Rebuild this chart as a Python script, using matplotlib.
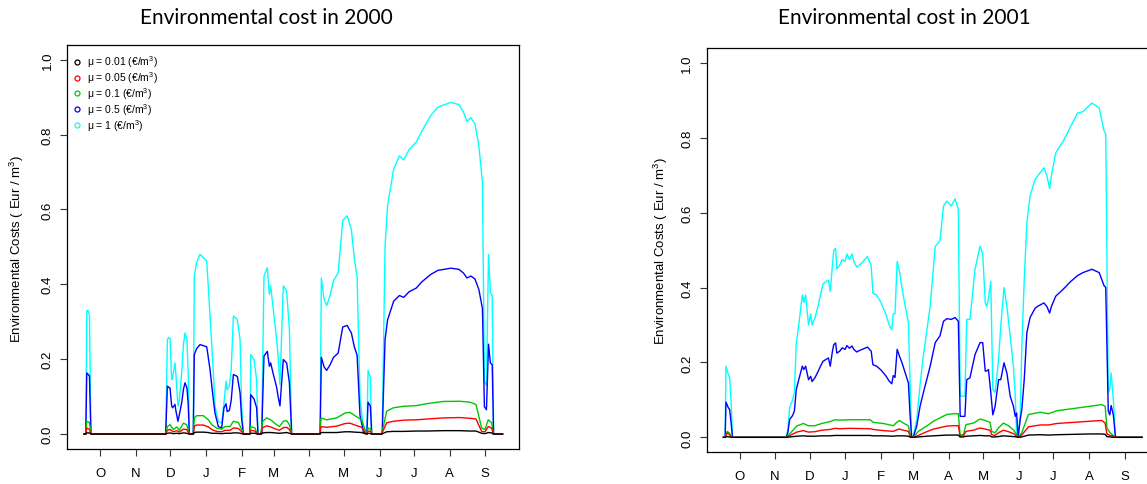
import matplotlib
matplotlib.use("Agg")
import matplotlib.pyplot as plt
from matplotlib.lines import Line2D

plt.rcParams['font.family'] = ['Liberation Sans', 'DejaVu Sans']
plt.rcParams['mathtext.fontset'] = 'custom'
plt.rcParams['mathtext.rm'] = 'Liberation Sans'
plt.rcParams['mathtext.it'] = 'Liberation Sans:italic'

# day of the hydrological year (0 = 1 Oct), values in Eur/m3
days_2000_hi = [0, 1.5, 2.4, 3.4, 4.7, 6.0, 71.0, 72.5, 73.5, 74.8, 76.2, 77.0, 79.1, 80.0,
                81.7, 82.9, 84.9, 86.5, 87.8, 89.5, 90.6, 91.6, 95.0, 95.9, 97.9, 100.9,
                103.8, 106.7, 109.6, 112.5, 113.9, 116.8, 119.7, 121.7, 123.5, 124.5, 126.4,
                128.0, 129.9, 133.3, 135.7, 137.1, 138.6, 144.3, 145.0, 147.8, 150.1, 151.3,
                154.5, 156.5, 159.4, 161.2, 162.3, 164.6, 167.5, 168.8, 170.4, 173.3, 176.2,
                178.6, 180.6, 205.3, 206.4, 208.8, 211.0, 214.0, 217.0, 221.0, 225.0, 228.8,
                232.5, 235.0, 237.5, 240.0, 243.0, 246.0, 247.0, 249.0, 250.2, 259.3, 261.8,
                264.0, 265.6, 269.3, 274.3, 278.0, 282.7, 289.0, 293.6, 301.4, 307.6, 319.0,
                326.0, 330.0, 333.0, 336.5, 340.0, 343.4, 346.5, 348.2, 350.0, 351.8, 353.4,
                355.0, 356.2, 364]
cost_2000_mu1 = [0, 0, 0.33, 0.33, 0.318, 0, 0, 0.252, 0.258, 0.255, 0.145, 0.15, 0.19, 0.154,
                 0.074, 0.092, 0.163, 0.24, 0.27, 0.252, 0.16, 0, 0, 0.422, 0.458, 0.48,
                 0.471, 0.462, 0.315, 0.163, 0.074, 0.034, 0.029, 0.083, 0.141, 0.118, 0.128,
                 0.172, 0.315, 0.306, 0.252, 0.074, 0, 0, 0.212, 0.199, 0.145, 0,
                 0, 0.422, 0.444, 0.373, 0.396, 0.333, 0.252, 0.208, 0.132, 0.396, 0.382,
                 0.28, 0, 0, 0.417, 0.36, 0.343, 0.37, 0.41, 0.43, 0.571, 0.583,
                 0.547, 0.47, 0.42, 0.10, 0.01, 0, 0.17, 0.15, 0, 0, 0.502,
                 0.61, 0.64, 0.708, 0.743, 0.732, 0.76, 0.78, 0.808, 0.85, 0.873, 0.886,
                 0.88, 0.86, 0.835, 0.845, 0.828, 0.77, 0.672, 0.14, 0.13, 0.48, 0.377,
                 0.37, 0, 0]
cost_2000_mu05 = [0, 0, 0.163, 0.16, 0.155, 0, 0, 0.128, 0.125, 0.123, 0.075, 0.07, 0.079, 0.06,
                  0.034, 0.052, 0.083, 0.12, 0.137, 0.123, 0.08, 0, 0, 0.212, 0.228, 0.239,
                  0.236, 0.233, 0.172, 0.09, 0.056, 0.02, 0.016, 0.07, 0.081, 0.06, 0.063,
                  0.09, 0.159, 0.154, 0.11, 0.04, 0, 0, 0.105, 0.094, 0.07, 0,
                  0, 0.208, 0.221, 0.181, 0.19, 0.16, 0.125, 0.1, 0.075, 0.199, 0.19,
                  0.137, 0, 0, 0.205, 0.179, 0.17, 0.185, 0.205, 0.216, 0.286, 0.29,
                  0.27, 0.234, 0.21, 0.05, 0.005, 0, 0.085, 0.075, 0, 0, 0.252,
                  0.305, 0.32, 0.355, 0.37, 0.365, 0.38, 0.39, 0.406, 0.426, 0.437, 0.443,
                  0.44, 0.43, 0.417, 0.422, 0.414, 0.386, 0.335, 0.073, 0.065, 0.24, 0.19,
                  0.185, 0, 0]

days_2000_lo = [0, 1.5, 2.3, 4.6, 6.2, 71.0, 72.5, 74.8, 77.7, 80.6, 82.9, 86.4, 89.3, 91.6,
                95.1, 95.9, 97.9, 103.8, 108.1, 111.0, 115.4, 119.7, 122.6, 127.0, 129.9,
                134.2, 137.1, 139.1, 144.3, 145.0, 148.7, 150.7, 153.6, 155.4, 158.8, 162.3,
                166.1, 169.9, 173.3, 176.2, 178.6, 180.6, 205.2, 206.1, 211.0, 219.7, 226.9,
                231.3, 235.6, 241.4, 244.3, 246.0, 247.0, 249.0, 250.5, 258.8, 260.3, 263.2,
                269.0, 277.7, 289.3, 298.0, 312.5, 327.0, 335.7, 340.9, 345.8, 348.7, 351.6,
                354.5, 356.0, 364]
cost_2000_mu01 = [0, 0, 0.034, 0.031, 0, 0, 0.02, 0.025, 0.012, 0.019, 0.01, 0.029, 0.025, 0,
                  0, 0.043, 0.049, 0.049, 0.038, 0.025, 0.016, 0.013, 0.02, 0.02, 0.034,
                  0.031, 0.012, 0, 0, 0.02, 0.016, 0, 0, 0.034, 0.043, 0.038,
                  0.028, 0.02, 0.034, 0.036, 0.025, 0, 0, 0.043, 0.038, 0.043, 0.056,
                  0.058, 0.049, 0.038, 0.012, 0, 0.016, 0.014, 0, 0, 0.02, 0.061,
                  0.07, 0.074, 0.076, 0.081, 0.087, 0.0875, 0.085, 0.079, 0.016, 0.012, 0.038,
                  0.03, 0, 0]
cost_2000_mu005 = [0, 0, 0.016, 0.013, 0, 0, 0.01, 0.012, 0.006, 0.009, 0.005, 0.013, 0.012, 0,
                   0, 0.021, 0.024, 0.024, 0.019, 0.012, 0.007, 0.006, 0.01, 0.01, 0.016,
                   0.015, 0.006, 0, 0, 0.01, 0.008, 0, 0, 0.017, 0.022, 0.019,
                   0.014, 0.01, 0.017, 0.018, 0.012, 0, 0, 0.02, 0.018, 0.021, 0.028,
                   0.029, 0.024, 0.018, 0.005, 0, 0.008, 0.007, 0, 0, 0.01, 0.03,
                   0.034, 0.037, 0.038, 0.04, 0.043, 0.044, 0.042, 0.04, 0.007, 0.006, 0.02,
                   0.016, 0, 0]
cost_2000_mu001 = [0, 0, 0.003, 0.003, 0, 0, 0.002, 0.003, 0.001, 0.002, 0.001, 0.003, 0.002, 0,
                   0, 0.004, 0.005, 0.005, 0.004, 0.002, 0.002, 0.001, 0.002, 0.002, 0.003,
                   0.003, 0.001, 0, 0, 0.002, 0.002, 0, 0, 0.003, 0.004, 0.004,
                   0.003, 0.002, 0.003, 0.004, 0.002, 0, 0, 0.004, 0.004, 0.004, 0.006,
                   0.006, 0.005, 0.004, 0.001, 0, 0.002, 0.001, 0, 0, 0.002, 0.006,
                   0.007, 0.007, 0.008, 0.008, 0.009, 0.009, 0.008, 0.008, 0.002, 0.001, 0.004,
                   0.003, 0, 0]

days_2001_hi = [0, 1.5, 2.2, 4.1, 5.4, 6.6, 7.9, 54.5, 56.0, 57.6, 60.1, 61.7, 63.3, 65.5,
                68.6, 69.9, 71.5, 74.0, 75.9, 77.1, 79.7, 82.2, 84.4, 86.6, 91.3, 92.9, 94.8,
                96.0, 97.6, 98.6, 101.1, 103.3, 105.8, 107.4, 109.6, 111.8, 113.4, 115.9,
                118.4, 121.5, 125.3, 128.5, 130.0, 133.2, 137.0, 141.1, 144.2, 146.4, 147.7,
                149.2, 151.1, 153.3, 155.2, 158.1, 160.9, 162.3, 163.7, 165.0, 168.1, 171.0,
                173.8, 179.8, 184.2, 188.3, 191.4, 194.3, 198.1, 201.5, 204.3, 205.9, 210.0,
                211.6, 214.4, 218.8, 223.2, 225.5, 227.7, 228.9, 230.5, 232.5, 234.3, 236.3,
                239.3, 241.2, 244.0, 246.5, 249.4, 252.2, 253.8, 255.0, 256.3, 258.2, 259.5,
                261.6, 263.9, 266.7, 271.1, 273.3, 278.7, 281.2, 283.7, 285.3, 289.0, 295.3,
                301.6, 307.9, 312.7, 320.5, 326.8, 330.9, 332.5, 334.7, 336.0, 337.2, 339.1,
                341.0, 364]
cost_2001_mu1 = [0, 0, 0.19, 0.17, 0.16, 0.10, 0, 0, 0.02, 0.08, 0.10, 0.12, 0.25, 0.30,
                 0.38, 0.36, 0.38, 0.30, 0.33, 0.30, 0.32, 0.35, 0.38, 0.41, 0.42, 0.39, 0.46,
                 0.50, 0.505, 0.45, 0.46, 0.475, 0.47, 0.49, 0.475, 0.49, 0.47, 0.455,
                 0.46, 0.47, 0.483, 0.458, 0.385, 0.38, 0.36, 0.33, 0.30, 0.287, 0.33,
                 0.33, 0.47, 0.44, 0.40, 0.35, 0.306, 0.15, 0, 0, 0.047, 0.14,
                 0.217, 0.35, 0.51, 0.525, 0.618, 0.631, 0.618, 0.637, 0.608, 0.11, 0.11,
                 0.315, 0.315, 0.449, 0.511, 0.49, 0.36, 0.35, 0.37, 0.417, 0.128, 0.12,
                 0.208, 0.297, 0.40, 0.35, 0.27, 0.19, 0.11, 0.01, 0, 0.062, 0.24,
                 0.42, 0.574, 0.645, 0.69, 0.698, 0.72, 0.70, 0.665, 0.70, 0.76, 0.79,
                 0.828, 0.866, 0.87, 0.893, 0.88, 0.82, 0.81, 0.12, 0.13, 0.172, 0.10,
                 0, 0]
cost_2001_mu05 = [0, 0, 0.094, 0.08, 0.074, 0.04, 0, 0, 0.012, 0.048, 0.058, 0.07, 0.127, 0.154,
                  0.19, 0.181, 0.19, 0.154, 0.163, 0.149, 0.16, 0.175, 0.19, 0.203, 0.212, 0.19, 0.23,
                  0.248, 0.252, 0.225, 0.23, 0.239, 0.235, 0.245, 0.238, 0.244, 0.235, 0.228,
                  0.232, 0.236, 0.241, 0.23, 0.194, 0.19, 0.18, 0.165, 0.15, 0.143, 0.165,
                  0.16, 0.235, 0.215, 0.2, 0.172, 0.145, 0.06, 0, 0, 0.03, 0.083,
                  0.118, 0.19, 0.253, 0.271, 0.31, 0.317, 0.315, 0.32, 0.31, 0.056, 0.056,
                  0.154, 0.159, 0.221, 0.253, 0.253, 0.177, 0.177, 0.181, 0.12, 0.06, 0.083,
                  0.154, 0.154, 0.199, 0.172, 0.11, 0.083, 0.056, 0.065, 0, 0.05, 0.074,
                  0.154, 0.28, 0.32, 0.345, 0.35, 0.359, 0.35, 0.332, 0.35, 0.377, 0.395,
                  0.415, 0.432, 0.44, 0.449, 0.44, 0.406, 0.40, 0.07, 0.06, 0.085, 0.06,
                  0, 0]

days_2001_lo = [0, 1.5, 3.3, 5.0, 7.0, 55.0, 57.9, 63.7, 69.5, 73.8, 79.5, 85.5, 92.7, 97.0,
                101.0, 110.1, 127.5, 130.4, 139.0, 147.8, 150.7, 153.0, 156.5, 160.8, 162.9,
                165.2, 169.5, 176.8, 182.6, 188.4, 194.2, 200.0, 204.3, 205.8, 208.7, 211.0,
                217.4, 223.2, 227.5, 231.9, 233.3, 236.2, 239.1, 243.5, 247.9, 252.2, 255.1,
                256.5, 259.4, 265.3, 275.4, 282.7, 290.0, 304.5, 319.0, 329.1, 332.0, 333.5,
                336.4, 339.3, 342.2, 364]
cost_2001_mu01 = [0, 0, 0.016, 0.012, 0, 0, 0.01, 0.03, 0.037, 0.031, 0.031, 0.037, 0.042, 0.047,
                  0.046, 0.047, 0.047, 0.04, 0.037, 0.031, 0.04, 0.045, 0.038, 0.031, 0,
                  0, 0.016, 0.03, 0.043, 0.052, 0.061, 0.063, 0.063, 0.007, 0.007, 0.034,
                  0.038, 0.049, 0.045, 0.04, 0.016, 0.012, 0.025, 0.038, 0.031, 0.02, 0.007,
                  0, 0.012, 0.061, 0.067, 0.063, 0.071, 0.077, 0.083, 0.0875, 0.083, 0.025,
                  0.012, 0.004, 0, 0]
cost_2001_mu005 = [0, 0, 0.012, 0.008, 0, 0, 0.005, 0.014, 0.018, 0.014, 0.015, 0.019, 0.021, 0.024,
                   0.023, 0.024, 0.023, 0.021, 0.018, 0.016, 0.02, 0.022, 0.019, 0.016, 0,
                   0, 0.005, 0.015, 0.022, 0.026, 0.03, 0.031, 0.031, 0.003, 0.004, 0.016,
                   0.019, 0.025, 0.022, 0.019, 0.007, 0.005, 0.012, 0.019, 0.015, 0.01, 0.003,
                   0, 0.006, 0.028, 0.033, 0.033, 0.037, 0.04, 0.043, 0.045, 0.038, 0.009,
                   0.005, 0.003, 0, 0]
cost_2001_mu001 = [0, 0, 0.002, 0.001, 0, 0, 0.001, 0.003, 0.004, 0.003, 0.003, 0.004, 0.004, 0.005,
                   0.005, 0.005, 0.005, 0.004, 0.004, 0.003, 0.004, 0.004, 0.004, 0.003, 0,
                   0, 0.001, 0.003, 0.004, 0.005, 0.006, 0.006, 0.006, 0.001, 0.001, 0.003,
                   0.004, 0.005, 0.004, 0.004, 0.001, 0.001, 0.002, 0.004, 0.003, 0.002, 0.001,
                   0, 0.001, 0.006, 0.007, 0.006, 0.007, 0.008, 0.009, 0.009, 0.008, 0.002,
                   0.001, 0, 0, 0]

month_days = [14, 45, 75, 106, 137, 165, 196, 226, 257, 287, 318, 349]
month_labels = ['O', 'N', 'D', 'J', 'F', 'M', 'A', 'M', 'J', 'J', 'A', 'S']
mu_labels = ['\u03bc = 0.01 (\u20ac/m$^3$)', '\u03bc = 0.05 (\u20ac/m$^3$)', '\u03bc = 0.1 (\u20ac/m$^3$)',
             '\u03bc = 0.5 (\u20ac/m$^3$)', '\u03bc = 1 (\u20ac/m$^3$)']
mu_colors = ['black', 'red', '#00c800', 'blue', 'cyan']

W, H = 1147, 485
fig = plt.figure(figsize=(W / 100, H / 100), dpi=100)


def panel(left, top, d_hi, c1, c05, d_lo, c01, c005, c001):
    ax = fig.add_axes([left / W, 1 - (top + 404.3) / H, 452 / W, 404.3 / H])
    # drawn from largest to smallest so the black line ends up on top
    ax.plot(d_hi, c1, color=mu_colors[4], lw=1.0)
    ax.plot(d_hi, c05, color=mu_colors[3], lw=1.0)
    ax.plot(d_lo, c01, color=mu_colors[2], lw=1.0)
    ax.plot(d_lo, c005, color=mu_colors[1], lw=1.0)
    ax.plot(d_lo, c001, color=mu_colors[0], lw=1.0)
    ax.set_xlim(-0.04 * 364, 1.04 * 364)
    ax.set_ylim(-0.04, 1.04)
    ax.set_xticks(month_days)
    ax.set_xticklabels(month_labels)
    ax.set_yticks([0, 0.2, 0.4, 0.6, 0.8, 1.0])
    ax.set_yticklabels(['0.0', '0.2', '0.4', '0.6', '0.8', '1.0'])
    ax.tick_params(direction='out', length=4.7, width=0.8, labelsize=9.5, color='#333333')
    ax.tick_params(axis='x', pad=8)
    ax.tick_params(axis='y', pad=5, labelrotation=90)
    for lab in ax.get_yticklabels():
        lab.set_va('center')
    for s in ax.spines.values():
        s.set_linewidth(0.9)
    return ax


ax1 = panel(67.3, 45.7, days_2000_hi, cost_2000_mu1, cost_2000_mu05,
            days_2000_lo, cost_2000_mu01, cost_2000_mu005, cost_2000_mu001)
ax2 = panel(706.7, 49.0, days_2001_hi, cost_2001_mu1, cost_2001_mu05,
            days_2001_lo, cost_2001_mu01, cost_2001_mu005, cost_2001_mu001)

handles = [Line2D([], [], ls='none', marker='o', ms=3.6, mfc='none', mec=c, mew=0.9)
           for c in mu_colors]
ax1.legend(handles, mu_labels, loc='upper left', bbox_to_anchor=(0.012, 0.978),
           frameon=False, fontsize=7.5, handlelength=0.8, handletextpad=0.6,
           labelspacing=0.0, borderaxespad=0, borderpad=0)

fig.text(266.5 / W, 1 - 18 / H, 'Environmental cost in 2000', ha='center', va='center',
         fontsize=15, family='Lato')
fig.text(904.8 / W, 1 - 18 / H, 'Environmental cost in 2001', ha='center', va='center',
         fontsize=15, family='Lato')
fig.text(17.3 / W, 1 - 249 / H, 'Environmental Costs ( Eur / m$^3$)', rotation=90,
         ha='center', va='center', fontsize=9.5)
fig.text(661 / W, 1 - 251.5 / H, 'Environmental Costs ( Eur / m$^3$)', rotation=90,
         ha='center', va='center', fontsize=9.5)

fig.savefig('out.png', dpi=100)
